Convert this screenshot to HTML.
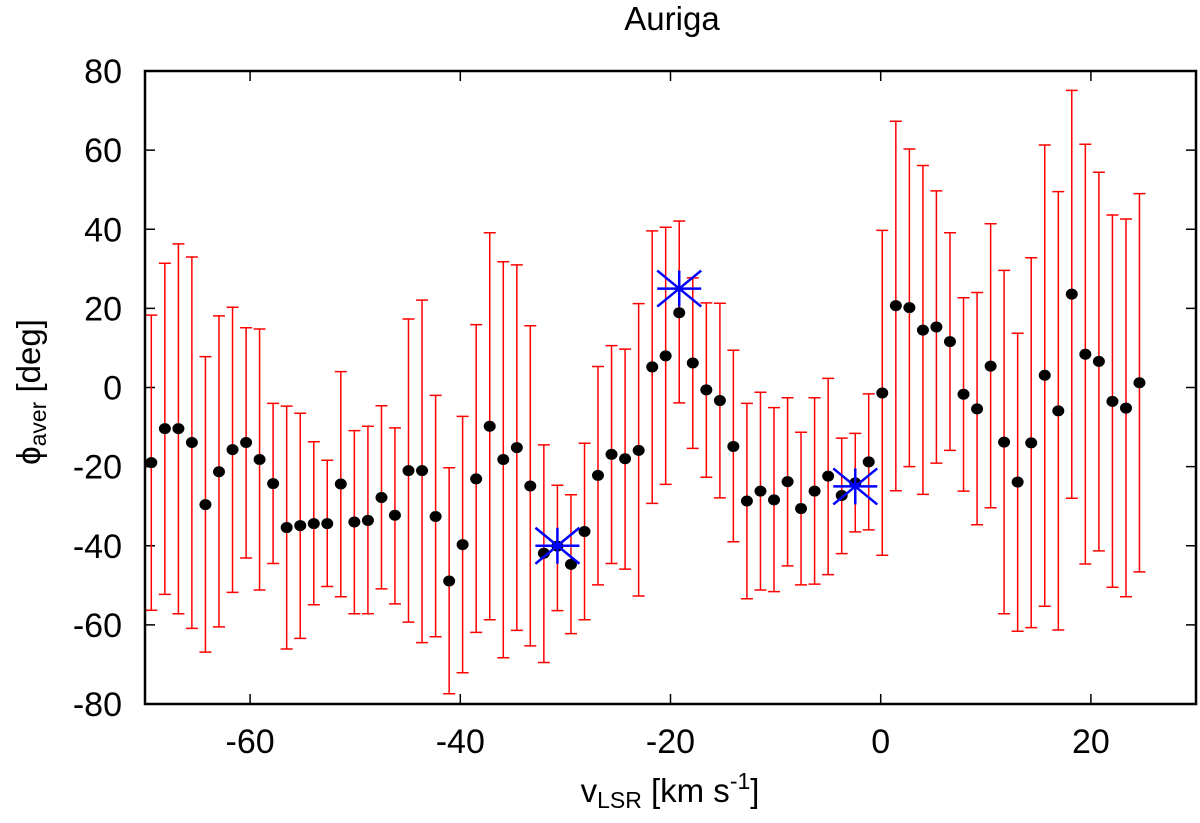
<!DOCTYPE html>
<html><head><meta charset="utf-8"><style>
body{margin:0;background:#fff}
svg text{font-family:"Liberation Sans",sans-serif}
</style></head><body>
<svg id="chart" width="1200" height="818" viewBox="0 0 1200 818">
<text x="672" y="30" font-size="33" text-anchor="middle">Auriga</text>
<g id="grid"></g>
<g id="bars"></g>
<g id="dots"></g>
<g id="stars"></g>
<rect x="145" y="71" width="1051" height="633" fill="none" stroke="#000" stroke-width="2.5"/>
<text transform="translate(40,392) rotate(-90)" font-size="33" text-anchor="middle">ϕ<tspan font-size="23" dy="6">aver</tspan><tspan dy="-6"> [deg]</tspan></text>
<text x="670" y="802" font-size="33" text-anchor="middle">v<tspan font-size="23" dy="6">LSR</tspan><tspan dy="-6"> [km s</tspan><tspan font-size="23" dy="-13">-1</tspan><tspan dy="13">]</tspan></text>
</svg>
<script>
const xs=[-69.40,-68.11,-66.82,-65.54,-64.25,-62.96,-61.67,-60.38,-59.10,-57.81,-56.52,-55.23,-53.94,-52.66,-51.37,-50.08,-48.79,-47.50,-46.22,-44.93,-43.64,-42.35,-41.06,-39.78,-38.49,-37.20,-35.91,-34.62,-33.34,-32.05,-30.76,-29.47,-28.18,-26.90,-25.61,-24.32,-23.03,-21.74,-20.46,-19.17,-17.88,-16.59,-15.30,-14.02,-12.73,-11.44,-10.15,-8.86,-7.58,-6.29,-5.00,-3.71,-2.42,-1.14,0.15,1.44,2.73,4.02,5.30,6.59,7.88,9.17,10.46,11.74,13.03,14.32,15.61,16.90,18.18,19.47,20.76,22.05,23.34,24.62];
const phi=[-19.0,-10.4,-10.4,-13.9,-29.6,-21.3,-15.7,-13.9,-18.2,-24.3,-35.4,-34.9,-34.4,-34.4,-24.4,-34.0,-33.6,-27.8,-32.3,-21.0,-21.0,-32.6,-48.9,-39.7,-23.1,-9.8,-18.2,-15.2,-24.9,-41.9,-40.1,-44.7,-36.4,-22.2,-16.9,-18.0,-15.9,5.2,8.0,18.9,6.2,-0.6,-3.3,-14.9,-28.7,-26.2,-28.4,-23.8,-30.6,-26.2,-22.4,-27.3,-24.1,-18.8,-1.4,20.7,20.2,14.5,15.3,11.6,-1.7,-5.4,5.4,-13.8,-23.9,-14.0,3.1,-5.9,23.6,8.4,6.6,-3.5,-5.2,1.2];
const hi=[18.3,31.4,36.3,33.0,7.8,18.1,20.3,15.1,14.8,-4.0,-4.7,-6.5,-13.7,-18.4,4.0,-10.9,-9.8,-4.6,-10.2,17.3,22.1,-2.0,-20.3,-7.3,15.9,39.1,31.8,31.0,15.6,-14.5,-24.7,-27.1,-14.1,5.3,10.6,9.7,21.2,39.6,40.5,42.1,27.7,21.4,21.3,9.4,-4.0,-1.2,-5.1,-2.6,-11.3,-2.6,2.3,-12.8,-11.6,-1.6,39.7,67.3,60.3,56.1,49.7,39.1,22.7,24.0,41.4,29.6,13.7,32.8,61.3,49.5,75.1,61.5,54.4,43.6,42.6,49.0];
const lo=[-56.3,-52.3,-57.2,-60.9,-66.9,-60.5,-51.8,-43.1,-51.2,-44.5,-66.1,-63.4,-54.9,-50.3,-52.9,-57.2,-57.2,-50.9,-54.7,-59.3,-64.5,-63.0,-77.4,-72.1,-61.9,-58.7,-68.3,-61.4,-65.3,-69.5,-56.4,-62.2,-58.7,-49.9,-44.5,-45.9,-52.7,-29.3,-24.5,-3.9,-15.4,-22.7,-27.9,-39.0,-53.4,-51.2,-51.6,-45.1,-49.9,-49.7,-47.3,-42.0,-36.5,-36.0,-42.4,-26.1,-20.0,-27.0,-19.1,-15.9,-26.2,-34.7,-30.4,-57.2,-61.6,-60.7,-55.3,-61.3,-28.0,-44.6,-41.3,-50.5,-52.9,-46.6];
const starX=[-30.76,-19.17,-2.42];
const starY=[-40,25,-25];
const xTicks=[-60,-40,-20,0,20];
const yTicks=[-80,-60,-40,-20,0,20,40,60,80];
const NS='http://www.w3.org/2000/svg';
const X0=145,X1=1196,Y0=704,Y1=71,xmin=-70,xmax=30,ymin=-80,ymax=80;
function sx(v){return X0+(v-xmin)/(xmax-xmin)*(X1-X0);}
function sy(v){return Y0-(v-ymin)/(ymax-ymin)*(Y0-Y1);}
function mk(tag,attrs,parent){const e=document.createElementNS(NS,tag);for(const k in attrs)e.setAttribute(k,attrs[k]);parent.appendChild(e);return e;}
const grid=document.getElementById('grid');
xTicks.forEach(t=>{
  const x=sx(t);
  let l=mk('path',{d:`M${x},${Y0}v-10M${x},${Y1}v10`,stroke:'#000','stroke-width':1.5},grid);
  
  
  let tx=mk('text',{x:x,y:753,'font-size':34,'text-anchor':'middle'},grid);
  tx.textContent=t;
  
  
});
yTicks.forEach(t=>{
  const y=sy(t);
  let l=mk('path',{d:`M${X0},${y}h10M${X1},${y}h-10`,stroke:'#000','stroke-width':1.5},grid);
  
  
  let tx=mk('text',{x:122,y:y+12,'font-size':34,'text-anchor':'end'},grid);
  tx.textContent=t;
  
  
});
const bars=document.getElementById('bars'),dots=document.getElementById('dots'),stars=document.getElementById('stars');
xs.forEach((v,i)=>{
  const x=sx(v),yt=sy(hi[i]),yb=sy(lo[i]);
  let b=mk('path',{d:`M${x},${yt}V${yb}M${x-6},${yt}h12M${x-6},${yb}h12`,stroke:'#f00','stroke-width':1.5,fill:'none'},bars);
  
  
  let d=mk('ellipse',{cx:x,cy:sy(phi[i]),rx:6,ry:5.5,fill:'#000'},dots);
  
  
});
starX.forEach((v,i)=>{
  const x=sx(v),y=sy(starY[i]);
  let s=mk('path',{d:`M${x-22},${y}h44M${x},${y-18}v36M${x-22},${y-18}L${x+22},${y+18}M${x-22},${y+18}L${x+22},${y-18}`,stroke:'#00f','stroke-width':2.5,fill:'none'},stars);
  
  
});
</script>
</body></html>
